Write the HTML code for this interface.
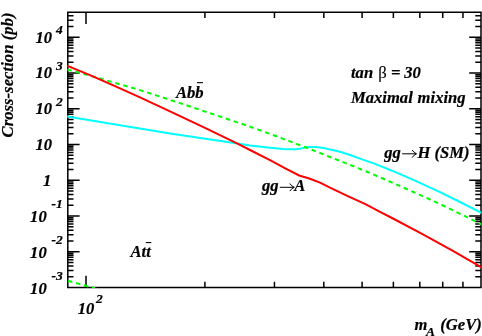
<!DOCTYPE html>
<html><head><meta charset="utf-8"><title>plot</title>
<style>html,body{margin:0;padding:0;background:#fff;}body{width:482px;height:336px;overflow:hidden;}svg{display:block;will-change:transform;}text{font-family:"Liberation Serif",serif;font-weight:bold;font-style:italic;fill:#000;stroke:#000;stroke-width:0.2px;}.s{font-size:16.6px;}.e{font-size:13.5px;}.n{font-weight:normal;font-style:normal;}</style></head><body>
<svg width="482" height="336" viewBox="0 0 482 336">
<rect x="0" y="0" width="482" height="336" fill="#fff"/>
<clipPath id="c"><rect x="67.1" y="12.25" width="414.2" height="275.75"/></clipPath>
<g stroke="#000" stroke-width="1.5" fill="none">
<rect x="67.8" y="12.25" width="413.2" height="275.25"/>
<path d="M67.8 276.74h5.7M481.0 276.74h-5.7M67.8 270.44h5.7M481.0 270.44h-5.7M67.8 265.98h5.7M481.0 265.98h-5.7M67.8 262.51h5.7M481.0 262.51h-5.7M67.8 259.68h5.7M481.0 259.68h-5.7M67.8 257.29h5.7M481.0 257.29h-5.7M67.8 255.21h5.7M481.0 255.21h-5.7M67.8 253.38h5.7M481.0 253.38h-5.7M67.8 251.75h11.8M481.0 251.75h-11.8M67.8 240.99h5.7M481.0 240.99h-5.7M67.8 234.69h5.7M481.0 234.69h-5.7M67.8 230.22h5.7M481.0 230.22h-5.7M67.8 226.76h5.7M481.0 226.76h-5.7M67.8 223.93h5.7M481.0 223.93h-5.7M67.8 221.53h5.7M481.0 221.53h-5.7M67.8 219.46h5.7M481.0 219.46h-5.7M67.8 217.63h5.7M481.0 217.63h-5.7M67.8 216.00h11.8M481.0 216.00h-11.8M67.8 205.23h5.7M481.0 205.23h-5.7M67.8 198.94h5.7M481.0 198.94h-5.7M67.8 194.47h5.7M481.0 194.47h-5.7M67.8 191.01h5.7M481.0 191.01h-5.7M67.8 188.18h5.7M481.0 188.18h-5.7M67.8 185.78h5.7M481.0 185.78h-5.7M67.8 183.71h5.7M481.0 183.71h-5.7M67.8 181.88h5.7M481.0 181.88h-5.7M67.8 180.25h11.8M481.0 180.25h-11.8M67.8 169.48h5.7M481.0 169.48h-5.7M67.8 163.19h5.7M481.0 163.19h-5.7M67.8 158.72h5.7M481.0 158.72h-5.7M67.8 155.26h5.7M481.0 155.26h-5.7M67.8 152.43h5.7M481.0 152.43h-5.7M67.8 150.03h5.7M481.0 150.03h-5.7M67.8 147.96h5.7M481.0 147.96h-5.7M67.8 146.13h5.7M481.0 146.13h-5.7M67.8 144.49h11.8M481.0 144.49h-11.8M67.8 133.73h5.7M481.0 133.73h-5.7M67.8 127.44h5.7M481.0 127.44h-5.7M67.8 122.97h5.7M481.0 122.97h-5.7M67.8 119.50h5.7M481.0 119.50h-5.7M67.8 116.67h5.7M481.0 116.67h-5.7M67.8 114.28h5.7M481.0 114.28h-5.7M67.8 112.21h5.7M481.0 112.21h-5.7M67.8 110.38h5.7M481.0 110.38h-5.7M67.8 108.74h11.8M481.0 108.74h-11.8M67.8 97.98h5.7M481.0 97.98h-5.7M67.8 91.68h5.7M481.0 91.68h-5.7M67.8 87.22h5.7M481.0 87.22h-5.7M67.8 83.75h5.7M481.0 83.75h-5.7M67.8 80.92h5.7M481.0 80.92h-5.7M67.8 78.53h5.7M481.0 78.53h-5.7M67.8 76.46h5.7M481.0 76.46h-5.7M67.8 74.63h5.7M481.0 74.63h-5.7M67.8 72.99h11.8M481.0 72.99h-11.8M67.8 62.23h5.7M481.0 62.23h-5.7M67.8 55.93h5.7M481.0 55.93h-5.7M67.8 51.47h5.7M481.0 51.47h-5.7M67.8 48.00h5.7M481.0 48.00h-5.7M67.8 45.17h5.7M481.0 45.17h-5.7M67.8 42.78h5.7M481.0 42.78h-5.7M67.8 40.70h5.7M481.0 40.70h-5.7M67.8 38.88h5.7M481.0 38.88h-5.7M67.8 37.24h11.8M481.0 37.24h-11.8M67.8 26.48h5.7M481.0 26.48h-5.7M67.8 20.18h5.7M481.0 20.18h-5.7M67.8 15.71h5.7M481.0 15.71h-5.7M86.00 287.5v-11.8M86.00 12.25v11.8M204.91 287.5v-5.7M204.91 12.25v5.7M274.46 287.5v-5.7M274.46 12.25v5.7M323.81 287.5v-5.7M323.81 12.25v5.7M362.09 287.5v-5.7M362.09 12.25v5.7M393.37 287.5v-5.7M393.37 12.25v5.7M419.81 287.5v-5.7M419.81 12.25v5.7M442.72 287.5v-5.7M442.72 12.25v5.7M462.93 287.5v-5.7M462.93 12.25v5.7"/>
</g>
<g fill="none" stroke-width="2" stroke-linejoin="round" clip-path="url(#c)">
<polyline points="67.00,116.40 170.00,133.60 237.50,143.40 250.00,145.50 270.00,147.70 283.00,148.90 290.00,149.20 295.00,149.20 300.00,148.80 302.50,148.10 305.40,147.30 310.00,146.95 315.00,146.95 320.00,147.50 325.00,148.30 330.00,149.40 340.00,151.80 350.00,155.00 362.00,159.40 375.00,163.90 392.00,170.70 415.00,180.60 440.00,192.10 460.00,202.00 482.00,213.20" stroke="#00ffff"/>
<polyline points="67.30,69.50 87.00,74.80 110.00,81.40 140.00,90.10 180.00,103.10 247.00,125.60 270.00,133.90 290.00,141.40 306.00,147.50 330.00,157.00 350.00,164.90 370.00,173.00 390.00,181.70 415.00,192.70 440.00,204.00 460.00,213.80 482.00,224.60" stroke="#00ff00" stroke-dasharray="4.5 3.8" stroke-dashoffset="0"/>
<polyline points="68.00,280.80 86.00,285.80 95.00,288.20" stroke="#00ff00" stroke-dasharray="4.5 3.8"/>
<polyline points="67.00,65.70 90.00,75.10 115.00,86.10 140.00,97.40 170.00,111.40 205.00,127.90 237.50,143.60 250.00,150.00 270.00,160.20 286.70,169.20 299.20,175.50 310.00,178.70 320.00,182.60 330.00,187.70 346.70,195.60 365.40,204.20 380.00,211.80 392.00,218.00 422.00,233.90 452.00,250.30 482.00,267.60" stroke="#ff0000"/>
</g>
<text class="s" x="46.7" y="293.50" text-anchor="end">10</text>
<text class="e" x="51.6" y="279.50">-3</text>
<text class="s" x="46.7" y="257.75" text-anchor="end">10</text>
<text class="e" x="51.6" y="243.75">-2</text>
<text class="s" x="46.7" y="222.00" text-anchor="end">10</text>
<text class="e" x="51.6" y="208.00">-1</text>
<text class="s" x="51.3" y="185.85" text-anchor="end">1</text>
<text class="s" x="52" y="150.09" text-anchor="end">10</text>
<text class="s" x="52" y="114.14" text-anchor="end">10</text>
<text class="e" x="56" y="105.94">2</text>
<text class="s" x="52" y="78.39" text-anchor="end">10</text>
<text class="e" x="56" y="70.19">3</text>
<text class="s" x="52" y="42.64" text-anchor="end">10</text>
<text class="e" x="56" y="34.44">4</text>
<text class="s" x="77.7" y="313.8">10</text>
<text class="e" x="96" y="302.8">2</text>
<text class="s" transform="translate(13.1,137.5) rotate(-90)" letter-spacing="0.06">Cross-section (pb)</text>
<text class="s" x="414.5" y="330">m</text>
<text class="e" x="426" y="336.3">A</text>
<text class="s" x="440.3" y="330">(GeV)</text>
<text class="s" x="176" y="98">Abb</text>
<rect x="197" y="82.1" width="6" height="1.1" fill="#000"/>
<text class="s" x="351" y="78.2">tan</text>
<text class="s n" x="378.2" y="78.2" style="font-size:16.8px;stroke-width:0.1px">β</text>
<text class="s" x="391" y="78.2">=</text>
<text class="s" x="404.2" y="78.3">30</text>
<text class="s" x="351" y="103.4" word-spacing="0.7">Maximal mixing</text>
<text class="s" x="384.3" y="158">gg</text>
<text class="s" x="417.5" y="158">H (SM)</text>
<text class="s" x="262" y="191.2">gg</text>
<text class="s" x="294.3" y="191.2">A</text>
<text class="s" x="130.5" y="257.3">Att</text>
<rect x="145.8" y="242" width="5.5" height="1.1" fill="#000"/>
<path d="M402.1 153.8H416.0M412.1 150.0Q414.0 152.9 416.6 153.8Q414.0 154.70000000000002 412.1 157.60000000000002" stroke="#000" stroke-width="1" fill="none" stroke-linejoin="miter"/>
<path d="M279.8 187.3H293.7M289.8 183.5Q291.7 186.4 294.3 187.3Q291.7 188.20000000000002 289.8 191.10000000000002" stroke="#000" stroke-width="1" fill="none" stroke-linejoin="miter"/>
</svg></body></html>
